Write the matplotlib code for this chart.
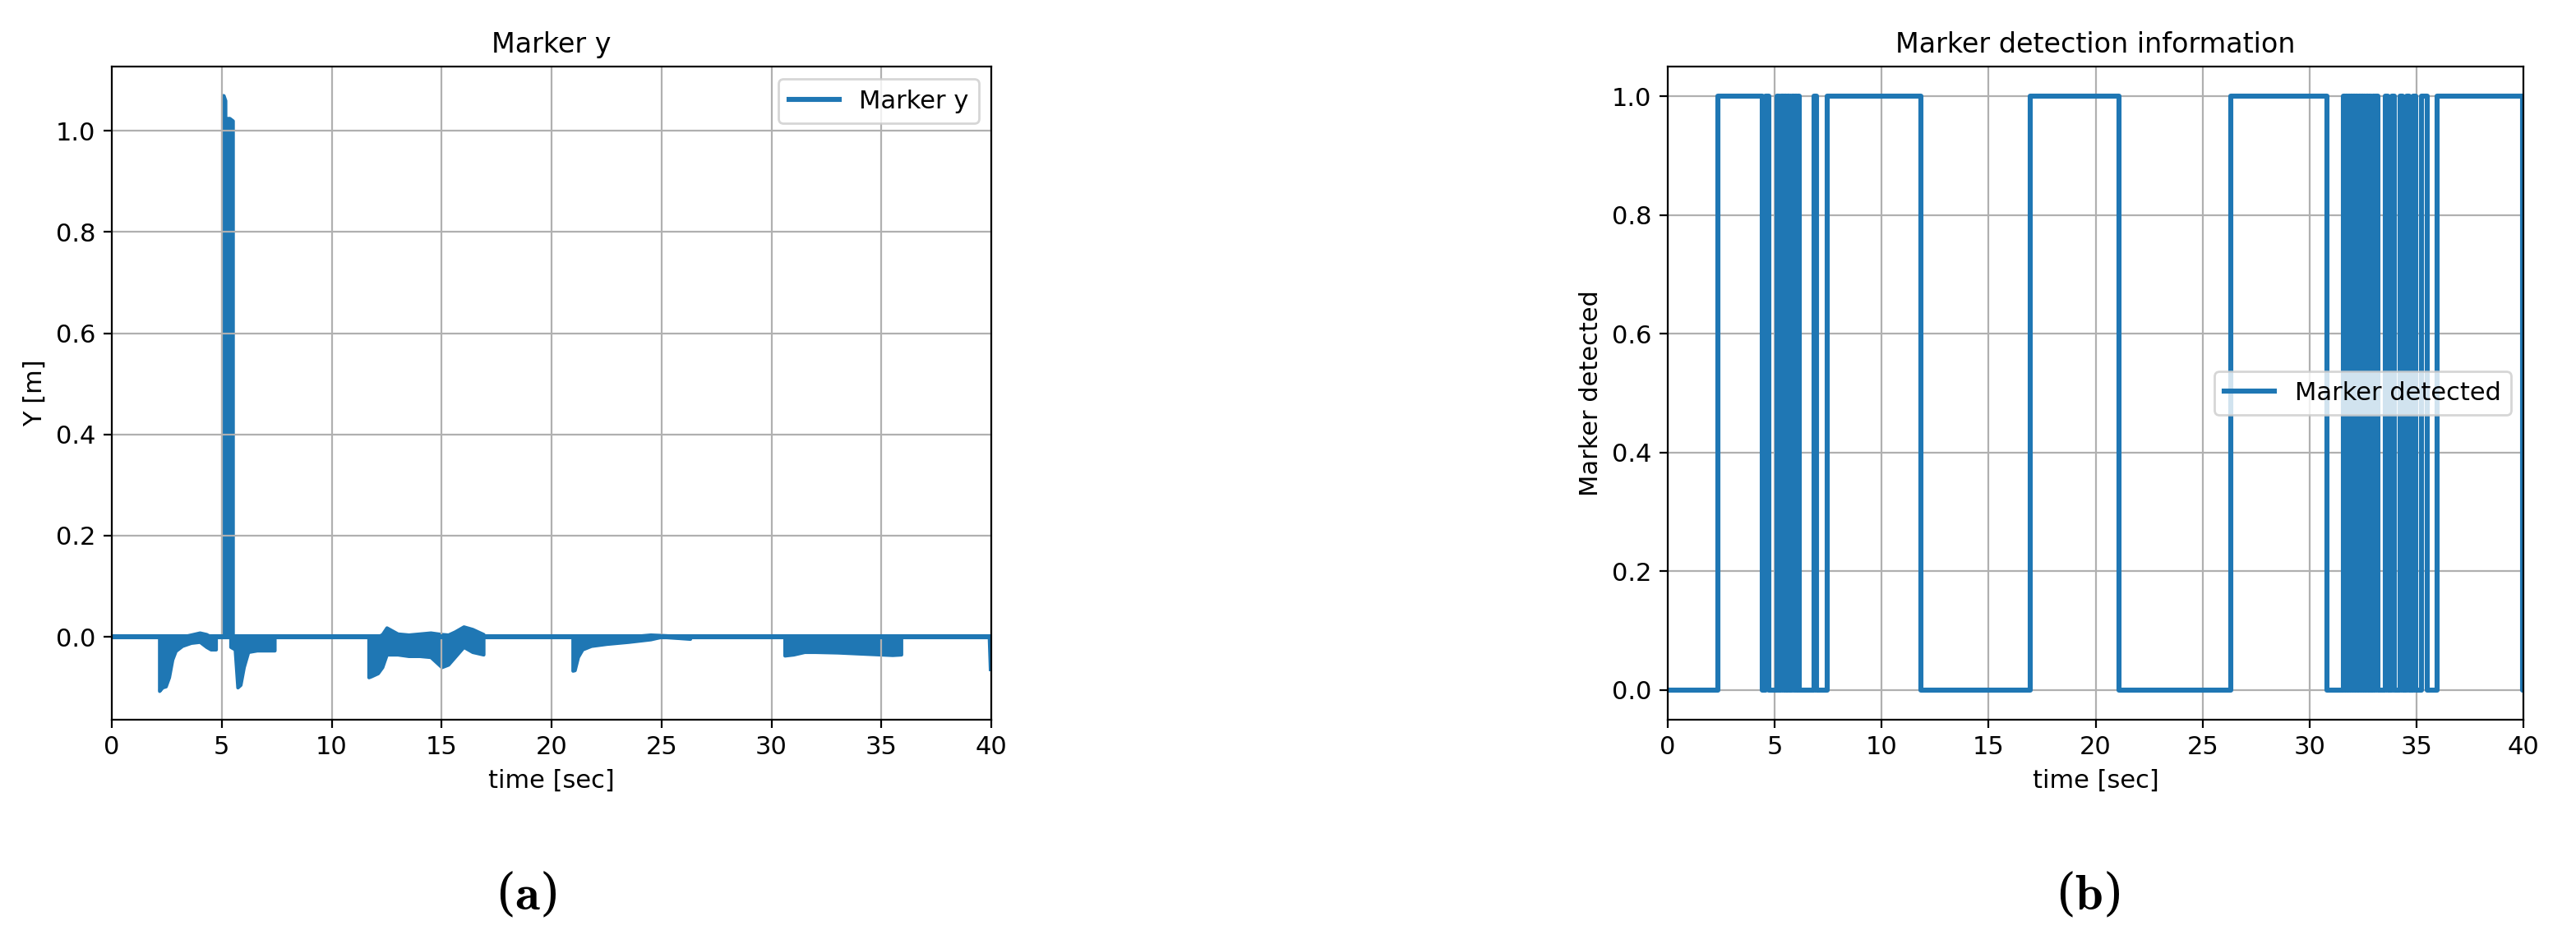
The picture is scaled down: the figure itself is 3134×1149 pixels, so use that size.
import numpy as np
import matplotlib.pyplot as plt

W, H = 3134, 1149
DPI = 200

# ---- Marker y: baseline line plus envelope of noisy blocks ----
y_line_t = [0, 39.95, 40.0]
y_line_v = [0, 0, -0.063]

# envelope blocks: (times, lows, highs)
blocks = [
    ([2.16, 2.3, 2.45, 2.6, 2.75, 2.9, 3.2, 3.6, 4.0, 4.3, 4.5, 4.73],
     [-0.107, -0.1, -0.098, -0.08, -0.045, -0.028, -0.018, -0.012, -0.01, -0.02, -0.025, -0.025],
     [0, 0, 0, 0, 0, 0, 0, 0.004, 0.008, 0.005, 0, 0]),
    ([5.03, 5.08, 5.16, 5.2, 5.28, 5.35, 5.5],
     [0, 0, 0, 0, 0, 0, 0],
     [1.07, 1.07, 1.06, 0.0, 1.025, 1.025, 1.02]),
    ([5.4, 5.6, 5.72, 5.85, 6.0, 6.2, 6.6, 7.0, 7.4],
     [-0.02, -0.025, -0.1, -0.095, -0.06, -0.03, -0.027, -0.027, -0.027],
     [0, 0, 0, 0, 0, 0, 0, 0, 0]),
    ([11.68, 11.8, 12.1, 12.3, 12.5, 13.0, 13.5, 14.0, 14.5, 15.0, 15.3, 15.6, 16.0, 16.4, 16.9],
     [-0.08, -0.078, -0.072, -0.06, -0.035, -0.035, -0.038, -0.038, -0.04, -0.06, -0.055, -0.04, -0.02, -0.03, -0.035],
     [0, 0, 0, 0.005, 0.018, 0.006, 0.004, 0.006, 0.008, 0.005, 0.004, 0.01, 0.02, 0.015, 0.005]),
    ([20.96, 21.05, 21.2, 21.4, 21.8, 22.5, 23.5, 24.5, 25.0, 26.3],
     [-0.067, -0.066, -0.04, -0.025, -0.018, -0.014, -0.01, -0.005, 0.0, -0.004],
     [0, 0, 0, 0, 0, 0, 0, 0.004, 0.003, 0]),
    ([30.6, 31.0, 31.5, 32.0, 33.0, 34.0, 35.0, 35.5, 35.9],
     [-0.037, -0.035, -0.03, -0.03, -0.031, -0.033, -0.035, -0.036, -0.035],
     [0, 0, 0, 0, 0, 0, 0, 0, 0]),
]

# ---- Marker detected: toggle times (state flips at each time) ----
det_toggles = [2.34, 4.43, 4.58, 4.74,
               5.1, 5.2, 5.3, 5.4, 5.45, 5.55, 5.6, 5.7, 5.8, 5.9, 5.95, 6.05, 6.1, 6.15,
               6.85, 6.95, 7.45,
               11.82, 16.95, 21.11, 26.34, 30.83,
               31.6, 31.65, 31.7, 31.78, 31.82, 31.9, 31.95, 32.0, 32.05, 32.12, 32.18,
               32.25, 32.3, 32.38, 32.42, 32.5, 32.55, 32.6, 32.68, 32.72, 32.8, 32.85,
               32.95, 33.05, 33.1, 33.2,
               33.55, 33.65, 33.85, 33.95, 34.25, 34.35, 34.55, 34.65, 34.85, 34.95,
               35.25, 35.5, 35.97, 39.98]
t_end = 40.0

blue = "#1f77b4"
plt.rcParams["font.family"] = "DejaVu Sans"
plt.rcParams["font.size"] = 11
plt.rcParams["axes.titlesize"] = 12

fig = plt.figure(figsize=(W / DPI, H / DPI), dpi=DPI)

ax_bottom = 1 - 876 / H
ax_height = 795 / H

# left panel
ax = fig.add_axes([136 / W, ax_bottom, 1070 / W, ax_height])
for tt, lo, hi in blocks:
    ax.fill_between(tt, lo, hi, color=blue, linewidth=1.5, edgecolor=blue)
ax.plot(y_line_t, y_line_v, color=blue, linewidth=2.2, label="Marker y")
ax.set_xlim(0, 40)
ax.set_ylim(-0.164, 1.127)
ax.set_title("Marker y")
ax.set_xlabel("time [sec]")
ax.set_ylabel("Y [m]")
ax.grid(True)
ax.legend(loc="upper right")

# right panel
ts = [0.0]
vs = [0]
state = 0
for t in det_toggles:
    ts.append(t)
    state = 1 - state
    vs.append(state)
ts.append(t_end)
vs.append(state)
ax2 = fig.add_axes([2029 / W, ax_bottom, 1041 / W, ax_height])
ax2.step(ts, vs, where="post", color=blue, linewidth=2.2, label="Marker detected")
ax2.set_xlim(0, 40)
ax2.set_ylim(-0.05, 1.05)
ax2.set_title("Marker detection information")
ax2.set_xlabel("time [sec]")
ax2.set_ylabel("Marker detected")
ax2.grid(True)
ax2.legend(loc="center right")

fig.text(640 / W, 1 - 1090 / H, r"($\mathbf{a}$)", ha="center", va="center",
         fontsize=22, family="serif", math_fontfamily="cm")
fig.text(2540 / W, 1 - 1090 / H, r"($\mathbf{b}$)", ha="center", va="center",
         fontsize=22, family="serif", math_fontfamily="cm")

fig.savefig("out.png", dpi=DPI)
